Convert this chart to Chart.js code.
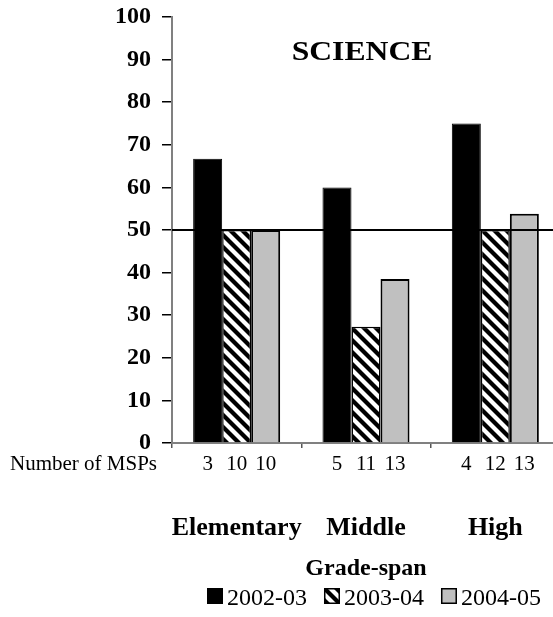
<!DOCTYPE html>
<html>
<head>
<meta charset="utf-8">
<script src="https://cdn.jsdelivr.net/npm/chart.js@4"></script>
<style>
  html, body { margin: 0; padding: 0; background: #fff; overflow: hidden; }
  canvas { display: block; }
</style>
</head>
<body>
<canvas id="scienceChart" width="560" height="617"></canvas>
<script>
const categories = ['Elementary', 'Middle', 'High'];
const years = ['2002-03', '2003-04', '2004-05'];
const values0203 = [66.7, 60, 75];
const values0304 = [50, 27.3, 50];
const values0405 = [50, 38.5, 53.8];
const msps0203 = [3, 5, 4];
const msps0304 = [10, 11, 12];
const msps0405 = [10, 13, 13];
const referenceLine = 50;

const serif = '"Liberation Serif", "Times New Roman", serif';

// diagonal hatch for 2003-04
function makeHatch() {
    const c = document.createElement('canvas');
    c.width = 12;
    c.height = 12;
    const g = c.getContext('2d');
    g.fillStyle = '#fff';
    g.fillRect(0, 0, 12, 12);
    g.strokeStyle = '#000';
    g.lineWidth = 4.2;
    for (let k = -1; k <= 1; k++) {
        g.beginPath();
        g.moveTo(k * 12 - 2, -2);
        g.lineTo(k * 12 + 14, 14);
        g.stroke();
    }
    return document.getElementById('scienceChart').getContext('2d').createPattern(c, 'repeat');
}
const hatch = makeHatch();

const fills = ['#000000', hatch, '#c0c0c0'];
const mspRows = [msps0203, msps0304, msps0405];

const extras = {
    id: 'extras',
    afterDatasetsDraw(chart) {
        const ctx = chart.ctx;
        const area = chart.chartArea;
        const y = chart.scales.y.getPixelForValue(referenceLine);
        ctx.save();
        ctx.strokeStyle = '#000';
        ctx.lineWidth = 2;
        ctx.beginPath();
        ctx.moveTo(area.left, y);
        ctx.lineTo(area.right, y);
        ctx.stroke();
        ctx.restore();
    },
    afterDraw(chart) {
        const ctx = chart.ctx;
        const area = chart.chartArea;
        ctx.save();
        ctx.fillStyle = '#000';

        // title inside the plot, slightly widened like the original
        ctx.save();
        ctx.font = 'bold 28px ' + serif;
        ctx.textAlign = 'center';
        ctx.translate((area.left + area.right) / 2 - 4, 60);
        ctx.scale(1.13, 1);
        ctx.fillText('SCIENCE', 0, 0);
        ctx.restore();

        // number of MSPs row
        ctx.font = '21px ' + serif;
        ctx.textAlign = 'left';
        ctx.fillText('Number of MSPs', 10, 470);
        ctx.textAlign = 'center';
        mspRows.forEach((row, d) => {
            const meta = chart.getDatasetMeta(d);
            row.forEach((n, i) => {
                ctx.fillText(String(n), meta.data[i].x, 470);
            });
        });

        // legend
        ctx.font = '24px ' + serif;
        ctx.textAlign = 'left';
        let x = 207;
        years.forEach((label, d) => {
            ctx.fillStyle = fills[d];
            ctx.fillRect(x, 588, 16, 16);
            ctx.strokeStyle = '#000';
            ctx.lineWidth = 1.5;
            ctx.strokeRect(x + 0.75, 588.75, 14.5, 14.5);
            ctx.fillStyle = '#000';
            ctx.fillText(label, x + 20, 605);
            x += 20 + ctx.measureText(label).width + 17;
        });
        ctx.restore();
    }
};

const data = {
    labels: categories,
    datasets: [
        { label: years[0], data: values0203, backgroundColor: fills[0], borderColor: '#000', borderWidth: 1 },
        { label: years[1], data: values0304, backgroundColor: fills[1], borderColor: '#000', borderWidth: 1.5 },
        { label: years[2], data: values0405, backgroundColor: fills[2], borderColor: '#000', borderWidth: 2 }
    ]
};

const config = {
    type: 'bar',
    data: data,
    options: {
        responsive: false,
        animation: false,
        layout: { padding: { top: 17, right: 0, bottom: 34, left: 0 } },
        datasets: {
            bar: { categoryPercentage: 0.673, barPercentage: 1 }
        },
        plugins: {
            legend: { display: false },
            tooltip: { enabled: false }
        },
        scales: {
            x: {
                afterFit: (scale) => {
                    scale.height = 140;
                    scale.paddingLeft = 0;
                    scale.paddingRight = 0;
                },
                grid: { drawOnChartArea: false, tickLength: 5, color: '#555', lineWidth: 1.5 },
                border: { color: '#808080', width: 2 },
                ticks: {
                    color: '#000',
                    padding: 65,
                    maxRotation: 0,
                    minRotation: 0,
                    autoSkip: false,
                    font: { family: serif, size: 26, weight: 'bold' }
                },
                title: {
                    display: true,
                    text: 'Grade-span',
                    color: '#000',
                    padding: 0,
                    font: { family: serif, size: 24, weight: 'bold' }
                }
            },
            y: {
                min: 0,
                max: 100,
                afterFit: (scale) => {
                    scale.width = 172;
                    scale.paddingTop = 0;
                    scale.paddingBottom = 0;
                },
                grid: { drawOnChartArea: false, tickLength: 10, color: '#000', lineWidth: 1.5 },
                border: { color: '#808080', width: 2 },
                ticks: {
                    stepSize: 10,
                    color: '#000',
                    padding: 11,
                    font: { family: serif, size: 24, weight: 'bold' }
                }
            }
        }
    },
    plugins: [extras]
};

new Chart(document.getElementById('scienceChart').getContext('2d'), config);
</script>
</body>
</html>
